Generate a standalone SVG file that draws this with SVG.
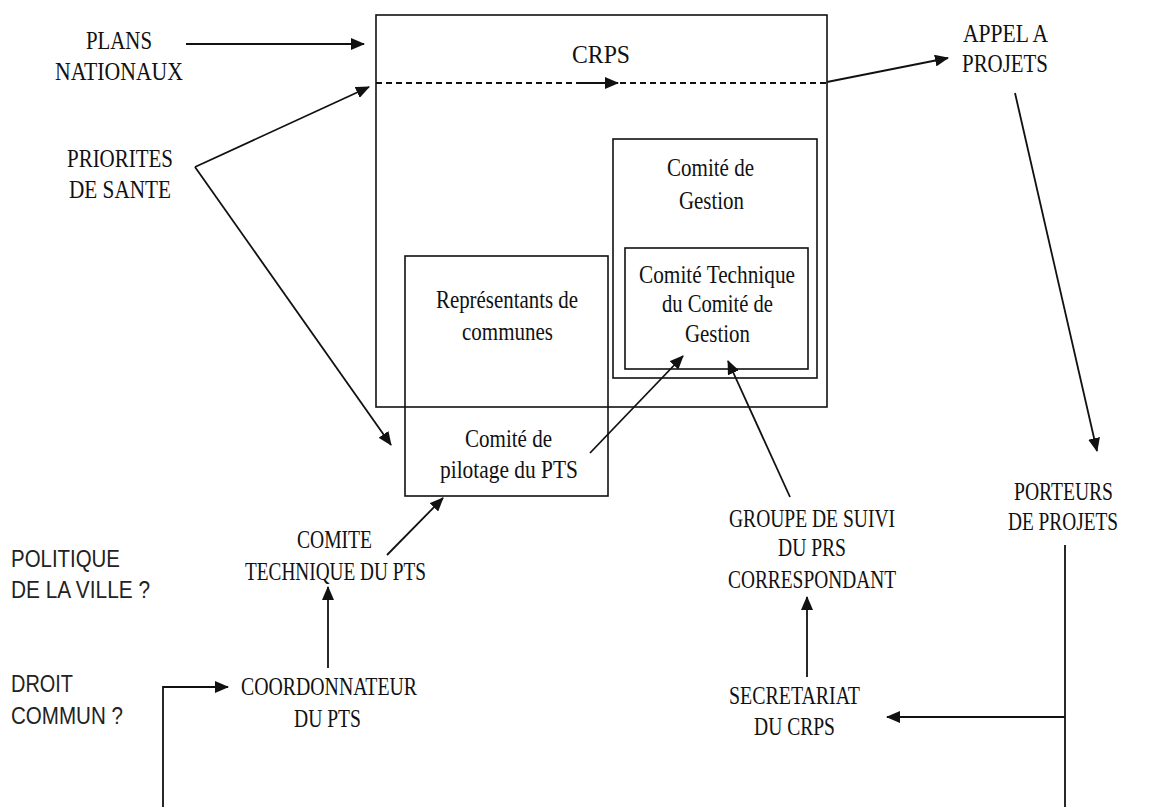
<svg xmlns="http://www.w3.org/2000/svg" width="1161" height="807" viewBox="0 0 1161 807">
<style>
.box{fill:none;stroke:#111;stroke-width:1.6}
.ln{fill:none;stroke:#111;stroke-width:1.8}
.dash{fill:none;stroke:#111;stroke-width:1.8;stroke-dasharray:6,4}
.t{font-family:'Liberation Serif','DejaVu Serif',serif;font-size:26px;fill:#111}
.s{font-family:'Liberation Sans',Arial,sans-serif;font-size:23px;fill:#222}
</style>
<defs>
<marker id="ah" markerUnits="userSpaceOnUse" markerWidth="14" markerHeight="12" refX="13" refY="6" orient="auto">
<path d="M0,0 L14,6 L0,12 z" fill="#111"/>
</marker>
</defs>
<rect width="1161" height="807" fill="#fff"/>

<g id="crps">
<rect class="box" x="376" y="15" width="451" height="392"/>
<text class="t" x="572" y="63" textLength="58" lengthAdjust="spacingAndGlyphs">CRPS</text>
</g>
<g id="comite-gestion">
<rect class="box" x="613" y="139" width="204" height="239"/>
<text class="t" x="667" y="176" textLength="87" lengthAdjust="spacingAndGlyphs">Comité de</text>
<text class="t" x="679" y="209" textLength="65" lengthAdjust="spacingAndGlyphs">Gestion</text>
</g>
<g id="comite-technique">
<rect class="box" x="625" y="248" width="183" height="121"/>
<text class="t" x="639" y="283" textLength="156" lengthAdjust="spacingAndGlyphs">Comité Technique</text>
<text class="t" x="662" y="312" textLength="111" lengthAdjust="spacingAndGlyphs">du Comité de</text>
<text class="t" x="685" y="342" textLength="65" lengthAdjust="spacingAndGlyphs">Gestion</text>
</g>
<g id="representants">
<rect class="box" x="405" y="256" width="203" height="240"/>
<text class="t" x="436" y="308" textLength="142" lengthAdjust="spacingAndGlyphs">Représentants de</text>
<text class="t" x="462" y="340" textLength="91" lengthAdjust="spacingAndGlyphs">communes</text>
<text class="t" x="465" y="447" textLength="87" lengthAdjust="spacingAndGlyphs">Comité de</text>
<text class="t" x="440" y="478" textLength="138" lengthAdjust="spacingAndGlyphs">pilotage du PTS</text>
</g>
<g id="plans">
<text class="t" x="86" y="49" textLength="66" lengthAdjust="spacingAndGlyphs">PLANS</text>
<text class="t" x="55" y="80" textLength="128" lengthAdjust="spacingAndGlyphs">NATIONAUX</text>
</g>
<g id="priorites">
<text class="t" x="67" y="167" textLength="106" lengthAdjust="spacingAndGlyphs">PRIORITES</text>
<text class="t" x="69" y="198" textLength="102" lengthAdjust="spacingAndGlyphs">DE SANTE</text>
</g>
<g id="appel">
<text class="t" x="963" y="42" textLength="85" lengthAdjust="spacingAndGlyphs">APPEL A</text>
<text class="t" x="962" y="72" textLength="86" lengthAdjust="spacingAndGlyphs">PROJETS</text>
</g>
<g id="porteurs">
<text class="t" x="1014" y="500" textLength="99" lengthAdjust="spacingAndGlyphs">PORTEURS</text>
<text class="t" x="1008" y="530" textLength="110" lengthAdjust="spacingAndGlyphs">DE PROJETS</text>
</g>
<g id="groupe">
<text class="t" x="729" y="527" textLength="166" lengthAdjust="spacingAndGlyphs">GROUPE DE SUIVI</text>
<text class="t" x="778" y="556" textLength="68" lengthAdjust="spacingAndGlyphs">DU PRS</text>
<text class="t" x="728" y="588" textLength="168" lengthAdjust="spacingAndGlyphs">CORRESPONDANT</text>
</g>
<g id="secretariat">
<text class="t" x="729" y="704" textLength="131" lengthAdjust="spacingAndGlyphs">SECRETARIAT</text>
<text class="t" x="754" y="735" textLength="81" lengthAdjust="spacingAndGlyphs">DU CRPS</text>
</g>
<g id="comite-tech-pts">
<text class="t" x="297" y="548" textLength="75" lengthAdjust="spacingAndGlyphs">COMITE</text>
<text class="t" x="245" y="580" textLength="181" lengthAdjust="spacingAndGlyphs">TECHNIQUE DU PTS</text>
</g>
<g id="coordonnateur">
<text class="t" x="241" y="695" textLength="176" lengthAdjust="spacingAndGlyphs">COORDONNATEUR</text>
<text class="t" x="294" y="727" textLength="67" lengthAdjust="spacingAndGlyphs">DU PTS</text>
</g>
<g id="politique">
<text class="s" x="11" y="567" textLength="109" lengthAdjust="spacingAndGlyphs">POLITIQUE</text>
<text class="s" x="11" y="598" textLength="139" lengthAdjust="spacingAndGlyphs">DE LA VILLE ?</text>
</g>
<g id="droit">
<text class="s" x="11" y="692" textLength="62" lengthAdjust="spacingAndGlyphs">DROIT</text>
<text class="s" x="11" y="724" textLength="112" lengthAdjust="spacingAndGlyphs">COMMUN ?</text>
</g>

<g id="connectors">
<path class="ln" d="M186,44 L364,44" marker-end="url(#ah)"/>
<path class="ln" d="M195,167 L369,87" marker-end="url(#ah)"/>
<path class="ln" d="M195,167 L391,445" marker-end="url(#ah)"/>
<path class="dash" d="M376,83 L580,83"/>
<path class="ln" d="M580,83 L618,83" marker-end="url(#ah)"/>
<path class="dash" d="M620,83 L827,83"/>
<path class="ln" d="M827,82 L948,58" marker-end="url(#ah)"/>
<path class="ln" d="M1015,93 L1097,451" marker-end="url(#ah)"/>
<path class="ln" d="M590,453 L683,356" marker-end="url(#ah)"/>
<path class="ln" d="M790,497 L728,361" marker-end="url(#ah)"/>
<path class="ln" d="M387,555 L443,498" marker-end="url(#ah)"/>
<path class="ln" d="M328,668 L328,587" marker-end="url(#ah)"/>
<path class="ln" d="M163,807 L163,687 L228,687" marker-end="url(#ah)"/>
<path class="ln" d="M807,677 L807,597" marker-end="url(#ah)"/>
<path class="ln" d="M1065,545 L1065,807"/>
<path class="ln" d="M1065,717 L887,717" marker-end="url(#ah)"/>
</g>
</svg>
